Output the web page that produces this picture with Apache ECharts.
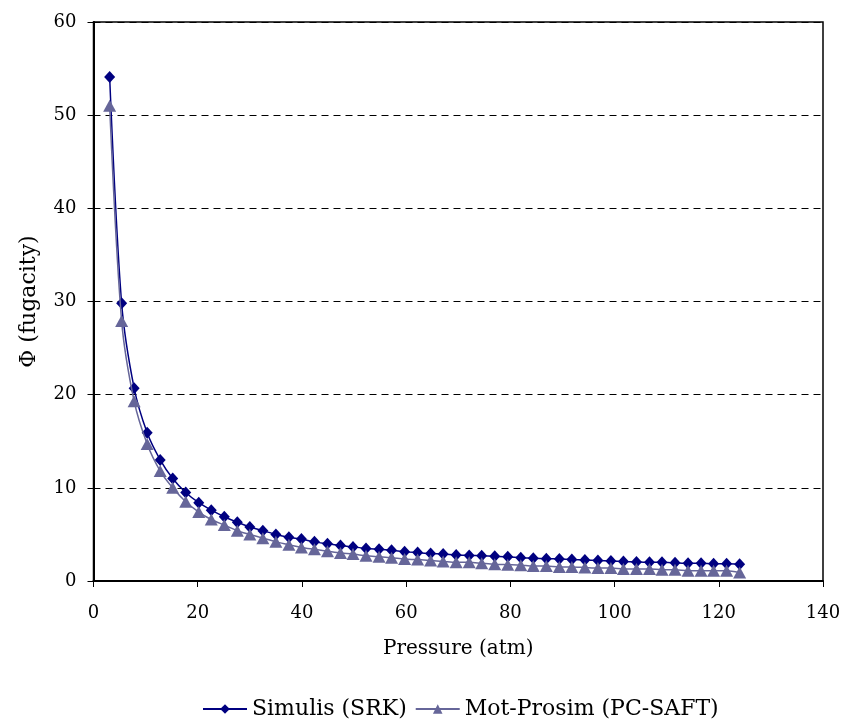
<!DOCTYPE html>
<html>
<head>
<meta charset="utf-8">
<title>Fugacity vs pressure</title>
<script src="https://cdn.jsdelivr.net/npm/echarts@6/dist/echarts.min.js"></script>
<style>
  html, body { margin: 0; padding: 0; background: #fff; }
  #main { width: 846px; height: 719px; }
</style>
</head>
<body>
<div id="main"></div>
<script type="text/javascript">
// pressure (atm)
var pressure = [3.1, 5.4, 7.8, 10.3, 12.8, 15.2, 17.7, 20.2, 22.6, 25.1,
                27.6, 30.0, 32.5, 35.0, 37.5, 39.9, 42.4, 44.9, 47.4, 49.8,
                52.3, 54.8, 57.2, 59.7, 62.2, 64.7, 67.1, 69.6, 72.1, 74.5,
                77.0, 79.5, 82.0, 84.4, 86.9, 89.4, 91.8, 94.3, 96.8, 99.3,
                101.7, 104.2, 106.7, 109.1, 111.6, 114.1, 116.6, 119.0, 121.5, 124.0];
// Simulis (SRK)
var srk = [54.1, 29.8, 20.7, 15.9, 13.0, 11.0, 9.5, 8.4, 7.6, 6.9,
           6.3, 5.8, 5.4, 5.0, 4.7, 4.5, 4.2, 4.0, 3.8, 3.65,
           3.5, 3.4, 3.3, 3.15, 3.05, 2.95, 2.9, 2.8, 2.75, 2.7,
           2.65, 2.6, 2.5, 2.45, 2.4, 2.35, 2.3, 2.25, 2.2, 2.15,
           2.1, 2.05, 2.0, 2.0, 1.95, 1.9, 1.9, 1.85, 1.85, 1.8];
// Mot-Prosim (PC-SAFT)
var pcsaft = [51.0, 27.9, 19.3, 14.7, 11.8, 10.0, 8.5, 7.4, 6.6, 6.0,
              5.4, 5.0, 4.6, 4.2, 3.9, 3.6, 3.4, 3.2, 3.0, 2.9,
              2.7, 2.6, 2.5, 2.35, 2.3, 2.2, 2.1, 2.0, 2.0, 1.9,
              1.8, 1.75, 1.7, 1.6, 1.6, 1.5, 1.5, 1.45, 1.4, 1.4,
              1.3, 1.3, 1.3, 1.2, 1.2, 1.1, 1.1, 1.1, 1.1, 0.9];
var seriesNames = ['Simulis (SRK)', 'Mot-Prosim (PC-SAFT)'];

function pairs(xs, ys) {
    var out = [];
    for (var i = 0; i < xs.length; i++) out.push([xs[i], ys[i]]);
    return out;
}

var serif = '"DejaVu Serif", "Liberation Serif", serif';
var myChart = echarts.init(document.getElementById('main'));

myChart.setOption({
    animation: false,
    backgroundColor: '#fff',
    textStyle: { fontFamily: serif },
    grid: {
        left: 93.5, right: 23, top: 22, bottom: 138,
        show: true, borderColor: '#000', borderWidth: 1.5
    },
    legend: {
        data: seriesNames,
        bottom: -6,
        left: 197,
        itemWidth: 44,
        itemHeight: 12,
        itemGap: 8,
        textStyle: { fontFamily: serif, fontSize: 22, color: '#000' }
    },
    xAxis: {
        type: 'value',
        min: 0, max: 140, interval: 20,
        name: 'Pressure (atm)',
        nameLocation: 'middle',
        nameGap: 58,
        nameTextStyle: { fontFamily: serif, fontSize: 20, color: '#000' },
        axisLine: { lineStyle: { color: '#000', width: 2 } },
        axisTick: { show: true, length: 6, lineStyle: { color: '#000' } },
        axisLabel: { fontFamily: serif, fontSize: 18, color: '#000', margin: 23 },
        splitLine: { show: false }
    },
    yAxis: {
        type: 'value',
        min: 0, max: 60, interval: 10,
        name: 'Φ (fugacity)',
        nameLocation: 'middle',
        nameGap: 53,
        nameRotate: 90,
        nameTextStyle: { fontFamily: serif, fontSize: 22, color: '#000' },
        axisLine: { show: true, lineStyle: { color: '#000', width: 2 } },
        axisTick: { show: true, length: 6, lineStyle: { color: '#000' } },
        axisLabel: { fontFamily: serif, fontSize: 18, color: '#000', margin: 17 },
        splitLine: { show: true, lineStyle: { color: '#000', type: [7, 5], width: 1 } }
    },
    series: [{
        name: seriesNames[0],
        type: 'line',
        smooth: 0.3,
        data: pairs(pressure, srk),
        symbol: 'diamond',
        symbolSize: [11, 12],
        itemStyle: { color: '#000080' },
        lineStyle: { color: '#000080', width: 1.5 },
        z: 2
    }, {
        name: seriesNames[1],
        type: 'line',
        smooth: 0.3,
        data: pairs(pressure, pcsaft),
        symbol: 'triangle',
        symbolSize: [13, 12],
        itemStyle: { color: '#666699' },
        lineStyle: { color: '#666699', width: 1.5 },
        z: 3
    }]
});
</script>
</body>
</html>
